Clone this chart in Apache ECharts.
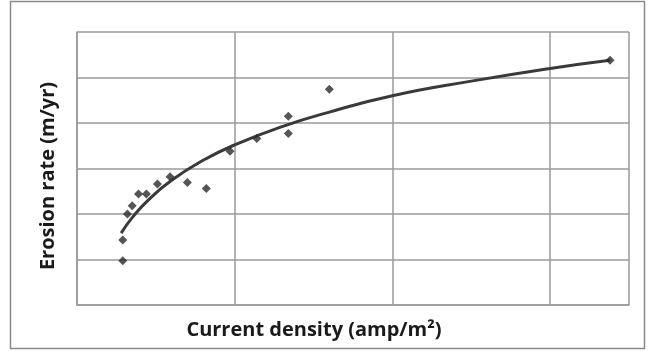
<!DOCTYPE html>
<html>
<head>
<meta charset="utf-8">
<script src="https://cdn.jsdelivr.net/npm/echarts@6/dist/echarts.min.js"></script>
<style>html,body{margin:0;padding:0;background:#fff}#c{width:650px;height:351px}</style>
</head>
<body>
<div id="c"></div>
<script>
const densityX = [0.29, 0.29, 0.32, 0.35, 0.39, 0.44, 0.51, 0.59, 0.70, 0.82, 0.97, 1.14, 1.34, 1.34, 1.60, 3.38];
const erosionY = [0.97, 1.43, 2.00, 2.18, 2.44, 2.44, 2.66, 2.82, 2.69, 2.56, 3.38, 3.66, 4.15, 3.77, 4.74, 5.38];
// Trend curve
const trendX = [0.28, 0.35, 0.45, 0.6, 0.8, 1.0, 1.3, 1.6, 2.0, 2.5, 3.0, 3.38];
const trendY = [1.58, 1.92, 2.30, 2.74, 3.18, 3.52, 3.92, 4.24, 4.60, 4.92, 5.20, 5.38];
const xTitle = 'Current density (amp/m²)';
const yTitle = 'Erosion rate (m/yr)';

const chart = echarts.init(document.getElementById('c'), null, {renderer: 'canvas'});
const gridColor = '#9a9a9a';
const titleFont = {fontFamily: 'Open Sans', fontWeight: 'bold', fontSize: 20, fill: '#1a1a1a'};
chart.setOption({
  backgroundColor: '#fff',
  animation: false,
  graphic: [{
    type: 'rect', shape: {x: 10.5, y: 1.5, width: 634, height: 347},
    style: {fill: 'none', stroke: '#8a8a8a', lineWidth: 1.5}, z: -1
  }, {
    type: 'text', x: 314, y: 330,
    style: Object.assign({text: xTitle, align: 'center', verticalAlign: 'middle'}, titleFont)
  }, {
    type: 'text', x: 48, y: 176, rotation: Math.PI / 2,
    style: Object.assign({text: yTitle, align: 'center', verticalAlign: 'middle'}, titleFont)
  }],
  grid: {left: 77, top: 32, right: 21, bottom: 46},
  xAxis: {
    type: 'value', min: 0, max: 3.5, interval: 1,
    axisLine: {show: true, lineStyle: {color: gridColor, width: 1.5}},
    axisTick: {show: false}, axisLabel: {show: false},
    splitLine: {show: true, lineStyle: {color: gridColor, width: 1.5}}
  },
  yAxis: {
    type: 'value', min: 0, max: 6, interval: 1,
    axisLine: {show: true, lineStyle: {color: gridColor, width: 1.5}},
    axisTick: {show: false}, axisLabel: {show: false},
    splitLine: {show: true, lineStyle: {color: gridColor, width: 1.5}}
  },
  series: [{
    type: 'line', smooth: true, symbol: 'none',
    data: trendX.map((x, i) => [x, trendY[i]]),
    lineStyle: {color: '#3a3a3a', width: 3}, z: 2
  }, {
    type: 'scatter', symbol: 'diamond', symbolSize: 9,
    data: densityX.map((x, i) => [x, erosionY[i]]),
    itemStyle: {color: '#2a2a2a'}, z: 3
  }]
});
</script>
</body>
</html>
